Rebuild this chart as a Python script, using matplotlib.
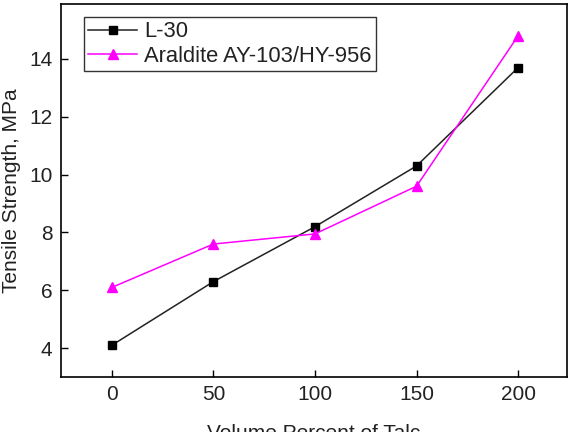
import matplotlib
matplotlib.use("Agg")
import matplotlib.pyplot as plt

talc = [0, 50, 100, 150, 200]
l30 = [4.1, 6.3, 8.2, 10.3, 13.7]
araldite = [6.1, 7.6, 7.95, 9.6, 14.8]

plt.rcParams['font.family'] = ['Liberation Sans', 'DejaVu Sans']

fig = plt.figure(figsize=(5.75, 4.32), dpi=100)
ax = fig.add_axes([0.106, 0.127, 0.88, 0.864])

ax.plot(talc, l30, color='#222222', lw=1.1, marker='s', ms=6,
        mfc='black', mec='black', label='L-30')
ax.plot(talc, araldite, color='#ff00ff', lw=1.1, marker='^', ms=7,
        mfc='#ff00ff', mec='#ff00ff', label='Araldite AY-103/HY-956')

ax.set_xlim(-25, 224)
ax.set_ylim(3, 15.9)
ax.set_xticks([0, 50, 100, 150, 200])
ax.set_yticks([4, 6, 8, 10, 12, 14])
ax.tick_params(direction='in', length=5, width=1, labelsize=15, pad=6,
               labelcolor='#222222')
for s in ax.spines.values():
    s.set_linewidth(1.2)

ax.set_xlabel('Volume Percent of Talc', fontsize=15, labelpad=14, color='#222222')
ax.set_ylabel('Tensile Strength, MPa', fontsize=15, labelpad=6, color='#222222')

leg = ax.legend(loc='upper left', bbox_to_anchor=(0.045, 0.965), fontsize=15.8,
                frameon=True, fancybox=False, edgecolor='black',
                handlelength=2.25, borderpad=0.2, labelspacing=0.15,
                handletextpad=0.3, borderaxespad=0)
leg.get_frame().set_linewidth(1.0)
for t in leg.get_texts():
    t.set_color('#222222')

fig.savefig('out.png', dpi=100)
